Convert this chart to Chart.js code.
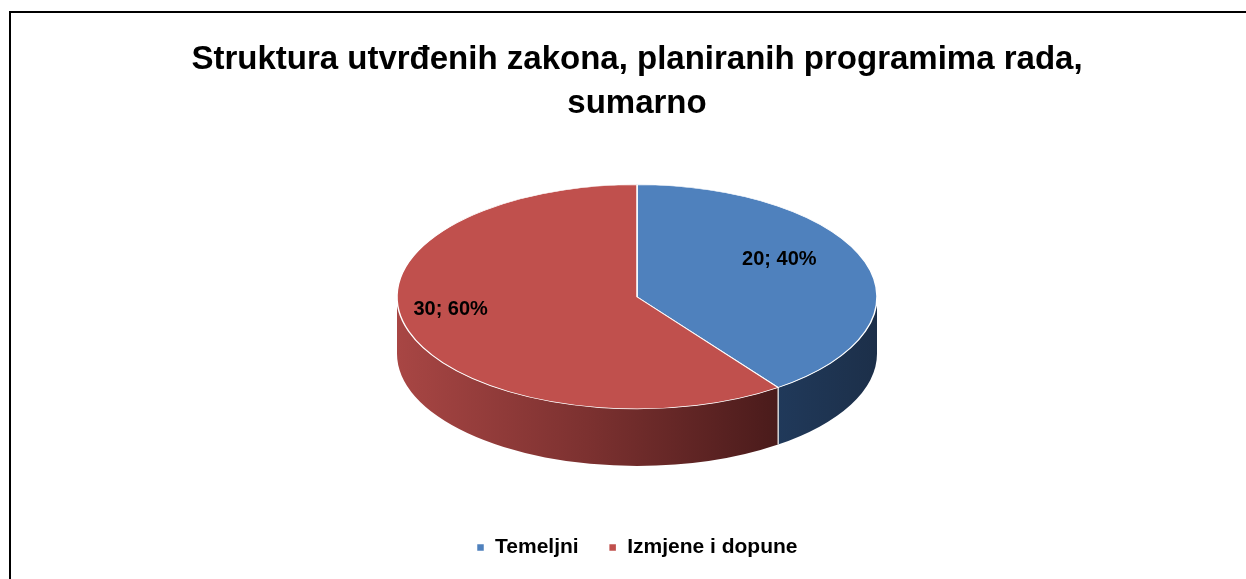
<!DOCTYPE html>
<html>
<head>
<meta charset="utf-8">
<script src="https://cdn.jsdelivr.net/npm/chart.js@4.4.0/dist/chart.umd.min.js"></script>
<style>
    html, body { margin: 0; padding: 0; background: #fff; overflow: hidden; }
    #frame { position: absolute; left: 9px; top: 11px; width: 1262px; height: 600px;
             border-left: 2px solid #000; border-top: 2px solid #000; }
    #wrap { position: absolute; left: 0; top: 0; width: 1252px; height: 580px; }
</style>
</head>
<body>
<div id="frame"><div id="wrap"><canvas id="structure-chart"></canvas></div></div>
<script>
    var categories = ['Temeljni', 'Izmjene i dopune'];
    var counts = [20, 30];
    var titleLines = ['Struktura utvrđenih zakona, planiranih programima rada,', 'sumarno'];
    var topColors = ['#4f81bd', '#c0504d'];

    var FONT = "'Liberation Sans', Arial, sans-serif";
    var TILT = 0.467;   // vertical squash of the pie
    var DEPTH = 57;     // thickness of the 3d side
    // labels sit a little up-left, like the excel perspective view
    var LABEL_DX = -22, LABEL_DY = -12;

    function pieGeom(chart) {
        var a = chart.getDatasetMeta(0).data[0];
        var r = a.outerRadius;
        return { cx: a.x, cy: a.y, r: r, cyTop: chart.chartArea.top + r * TILT };
    }

    var pie3d = {
        id: 'pie3d',
        beforeDatasetsDraw: function (chart) {
            var ctx = chart.ctx;
            var g = pieGeom(chart);
            var arcs = chart.getDatasetMeta(0).data;
            ctx.save();
            arcs.forEach(function (arc, i) {
                var a1 = Math.max(arc.startAngle, 0);
                var a2 = Math.min(arc.endAngle, Math.PI);
                if (a2 <= a1) return;
                var x1 = g.cx + g.r * Math.cos(a1), x2 = g.cx + g.r * Math.cos(a2);
                var grad = ctx.createLinearGradient(Math.min(x1, x2), 0, Math.max(x1, x2), 0);
                if (i === 0) {
                    grad.addColorStop(0, '#20395a');
                    grad.addColorStop(1, '#1c2f49');
                } else {
                    grad.addColorStop(0, '#a84644');
                    grad.addColorStop(0.5, '#7c3130');
                    grad.addColorStop(1, '#4a1b1b');
                }
                ctx.beginPath();
                ctx.ellipse(g.cx, g.cyTop, g.r, g.r * TILT, 0, a1, a2);
                ctx.ellipse(g.cx, g.cyTop + DEPTH, g.r, g.r * TILT, 0, a2, a1, true);
                ctx.closePath();
                ctx.fillStyle = grad;
                ctx.fill();
                // light seam where a slice edge faces the viewer
                [arc.startAngle, arc.endAngle].forEach(function (ang) {
                    if (ang > 0.01 && ang < Math.PI - 0.01) {
                        var x = g.cx + g.r * Math.cos(ang);
                        var y = g.cyTop + g.r * TILT * Math.sin(ang);
                        ctx.beginPath();
                        ctx.moveTo(x, y);
                        ctx.lineTo(x, y + DEPTH);
                        ctx.strokeStyle = 'rgba(235,235,235,0.9)';
                        ctx.lineWidth = 1.2;
                        ctx.stroke();
                    }
                });
            });
            ctx.restore();
            // squash the top face
            ctx.save();
            ctx.translate(g.cx, g.cyTop);
            ctx.scale(1, TILT);
            ctx.translate(-g.cx, -g.cy);
        },
        afterDatasetsDraw: function (chart) {
            var ctx = chart.ctx;
            ctx.restore();
            var g = pieGeom(chart);
            var total = counts.reduce(function (s, v) { return s + v; }, 0);
            ctx.save();
            ctx.font = 'bold 20px ' + FONT;
            ctx.fillStyle = '#000';
            ctx.textAlign = 'center';
            ctx.textBaseline = 'middle';
            chart.getDatasetMeta(0).data.forEach(function (arc, i) {
                var mid = (arc.startAngle + arc.endAngle) / 2;
                var rr = g.r * 0.72;
                var x = g.cx + rr * Math.cos(mid) + LABEL_DX;
                var y = g.cyTop + rr * TILT * Math.sin(mid) + LABEL_DY;
                var pct = Math.round(counts[i] / total * 100);
                ctx.fillText(counts[i] + '; ' + pct + '%', x, y);
            });
            ctx.restore();
        }
    };

    new Chart(document.getElementById('structure-chart').getContext('2d'), {
        type: 'pie',
        data: {
            labels: categories,
            datasets: [{
                data: counts,
                backgroundColor: topColors,
                borderColor: '#ffffff',
                borderWidth: 1.5,
                clip: false
            }]
        },
        options: {
            responsive: true,
            maintainAspectRatio: false,
            animation: false,
            radius: 240,
            layout: { padding: { bottom: 25 } },
            plugins: {
                tooltip: { enabled: false },
                title: {
                    display: true,
                    text: titleLines,
                    color: '#000',
                    font: { family: FONT, size: 33, weight: 'bold', lineHeight: 1.36 },
                    padding: { top: 24, bottom: 58 }
                },
                legend: {
                    position: 'bottom',
                    labels: {
                        color: '#000',
                        font: { family: FONT, size: 21, weight: 'bold' },
                        boxWidth: 8,
                        boxHeight: 8,
                        padding: 30
                    }
                }
            }
        },
        plugins: [pie3d]
    });
</script>
</body>
</html>
